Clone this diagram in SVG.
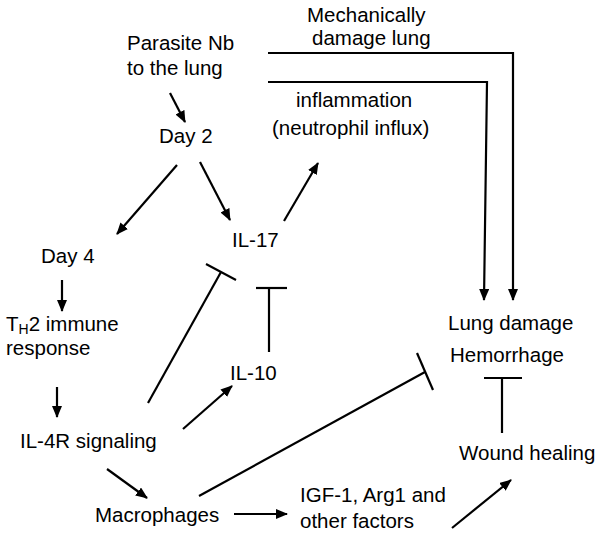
<svg xmlns="http://www.w3.org/2000/svg" width="602" height="541" viewBox="0 0 602 541">
<style>
text{font-family:"Liberation Sans",Arial,sans-serif;font-size:20.5px;fill:#000}
.c line,.c path{stroke:#000;stroke-width:2.2;fill:none}
</style>
<defs>
<marker id="ah" markerUnits="userSpaceOnUse" markerWidth="14" markerHeight="12" refX="11" refY="5" orient="auto">
<path d="M0,0 L12,5 L0,10 z" fill="#000"/>
</marker>
</defs>
<rect width="602" height="541" fill="#fff"/>
<g id="n-parasite"><text x="127" y="50">Parasite Nb</text><text x="127" y="75">to the lung</text></g>
<g id="n-mech"><text x="307" y="22">Mechanically</text><text x="312" y="45">damage lung</text></g>
<g id="n-inflam"><text x="296" y="107">inflammation</text><text x="272" y="135">(neutrophil influx)</text></g>
<g id="n-day2"><text x="159" y="143">Day 2</text></g>
<g id="n-il17"><text x="232" y="247">IL-17</text></g>
<g id="n-day4"><text x="41" y="263">Day 4</text></g>
<g id="n-th2"><text x="6" y="331">T<tspan font-size="14" dy="3">H</tspan><tspan dy="-3">2 immune</tspan></text><text x="6" y="355">response</text></g>
<g id="n-il10"><text x="230" y="380">IL-10</text></g>
<g id="n-il4r"><text x="20" y="448">IL-4R signaling</text></g>
<g id="n-macro"><text x="95" y="522">Macrophages</text></g>
<g id="n-igf"><text x="300" y="502">IGF-1, Arg1 and</text><text x="300" y="528">other factors</text></g>
<g id="n-lung"><text x="448" y="330">Lung damage</text><text x="450" y="362">Hemorrhage</text></g>
<g id="n-wound"><text x="459" y="460">Wound healing</text></g>
<g id="connectors" class="c">
<path d="M268,53 H513 V300" marker-end="url(#ah)"/>
<path d="M268,82 H487 L484,300" marker-end="url(#ah)"/>
<line x1="170" y1="93" x2="185" y2="122" marker-end="url(#ah)"/>
<line x1="177" y1="165" x2="117" y2="234" marker-end="url(#ah)"/>
<line x1="200" y1="162" x2="230" y2="220" marker-end="url(#ah)"/>
<line x1="284" y1="221" x2="318" y2="163" marker-end="url(#ah)"/>
<line x1="62" y1="280" x2="62" y2="311" marker-end="url(#ah)"/>
<line x1="57" y1="387" x2="57" y2="417" marker-end="url(#ah)"/>
<line x1="183" y1="429" x2="232" y2="386" marker-end="url(#ah)"/>
<line x1="107" y1="469" x2="147" y2="498" marker-end="url(#ah)"/>
<line x1="234" y1="514" x2="287" y2="514" marker-end="url(#ah)"/>
<line x1="452" y1="528" x2="511" y2="480" marker-end="url(#ah)"/>
<line x1="148" y1="403" x2="221" y2="272"/>
<line x1="206" y1="264" x2="236" y2="280"/>
<line x1="269" y1="352" x2="269" y2="288"/>
<line x1="256" y1="288" x2="287" y2="288"/>
<line x1="199" y1="496" x2="425" y2="372"/>
<line x1="417" y1="353" x2="433" y2="390"/>
<line x1="502" y1="433" x2="502" y2="378"/>
<line x1="484" y1="378" x2="522" y2="378"/>
</g>
</svg>
